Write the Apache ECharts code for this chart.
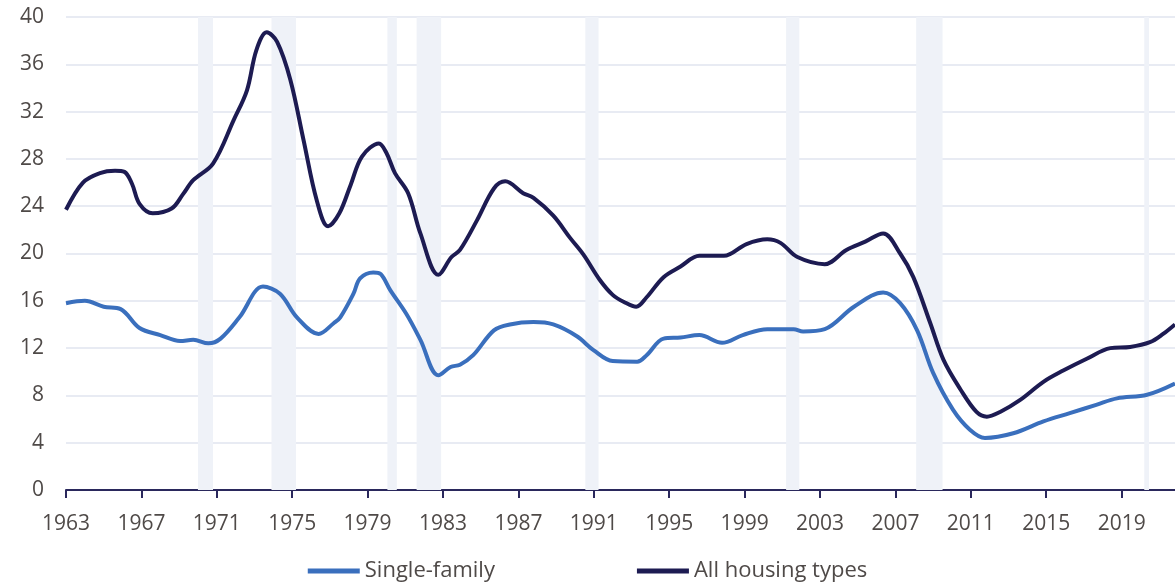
<!DOCTYPE html>
<html>
<head>
<meta charset="utf-8">
<script src="https://cdn.jsdelivr.net/npm/echarts@6/dist/echarts.min.js"></script>
<style>
    html, body { margin: 0; padding: 0; background: #fff; }
    #chart { width: 1175px; height: 584px; }
</style>
</head>
<body>
<div id="chart"></div>
<script type="text/javascript">

// all housing types
var allYears = [1963.0, 1963.9, 1964.8, 1965.6, 1966.1, 1966.5, 1966.9, 1967.6, 1968.6, 1969.2,
    1969.75, 1970.8, 1971.9, 1972.6, 1973.1, 1973.65, 1974.2, 1974.9, 1975.6, 1976.3,
    1976.9, 1977.5, 1978.1, 1978.7, 1979.6, 1980.0, 1980.45, 1981.15, 1981.8, 1982.75,
    1983.45, 1983.9, 1984.8, 1985.7, 1986.3, 1987.25, 1987.8, 1988.85, 1989.75, 1990.45,
    1991.3, 1992.0, 1992.6, 1993.25, 1993.8, 1994.7, 1995.6, 1996.6, 1997.9, 1999.1,
    2000.2, 2000.9, 2001.8, 2003.25, 2004.4, 2005.4, 2006.35, 2007.25, 2007.95, 2008.85,
    2009.55, 2010.45, 2011.3, 2011.85, 2012.55, 2013.6, 2014.85, 2015.9, 2017.15, 2018.4,
    2019.45, 2020.5, 2021.2, 2021.83];
var allValues = [23.7, 26.0, 26.8, 27.0, 26.9, 25.9, 24.2, 23.4, 23.8, 25.0,
    26.2, 27.6, 31.3, 33.8, 37.2, 38.7, 37.9, 34.7, 29.6, 24.5,
    22.3, 23.4, 25.8, 28.2, 29.3, 28.5, 26.8, 25.1, 21.7, 18.2,
    19.7, 20.3, 22.8, 25.5, 26.1, 25.1, 24.7, 23.2, 21.3, 19.9,
    17.8, 16.5, 15.9, 15.5, 16.3, 18.0, 18.9, 19.8, 19.8, 20.8,
    21.2, 20.9, 19.7, 19.1, 20.3, 21.0, 21.7, 20.0, 18.0, 14.1,
    11.0, 8.5, 6.6, 6.2, 6.6, 7.6, 9.15, 10.1, 11.1, 12.0,
    12.1, 12.5, 13.2, 14.0];

// single-family
var sfYears = [1963.0, 1964.0, 1965.0, 1965.9, 1966.9, 1968.0, 1969.05, 1969.75, 1970.55, 1971.2,
    1972.2, 1973.45, 1974.35, 1975.25, 1976.4, 1977.2, 1977.55, 1978.25, 1978.6, 1979.3,
    1979.7, 1980.2, 1981.05, 1981.8, 1982.75, 1983.4, 1983.9, 1984.6, 1985.7, 1986.55,
    1987.8, 1988.85, 1990.1, 1991.0, 1992.0, 1993.3, 1993.8, 1994.7, 1995.6, 1996.6,
    1997.8, 1998.9, 2000.2, 2001.6, 2002.1, 2003.25, 2004.8, 2006.35, 2007.25, 2008.15,
    2009.0, 2010.05, 2010.95, 2011.75, 2013.25, 2014.85, 2016.25, 2017.65, 2018.75, 2020.35,
    2021.83];
var sfValues = [15.8, 16.0, 15.5, 15.3, 13.7, 13.1, 12.6, 12.7, 12.4, 12.8,
    14.6, 17.2, 16.6, 14.6, 13.2, 14.1, 14.6, 16.6, 17.9, 18.4,
    18.25, 16.9, 14.9, 12.7, 9.7, 10.4, 10.6, 11.4, 13.5, 14.0,
    14.2, 14.0, 13.0, 11.8, 10.9, 10.85, 11.4, 12.8, 12.9, 13.1,
    12.45, 13.1, 13.6, 13.6, 13.4, 13.6, 15.5, 16.7, 15.8, 13.5,
    9.9, 6.8, 5.1, 4.4, 4.8, 5.8, 6.5, 7.2, 7.75, 8.05,
    9.0];

// recessions (start, end)
var recessionStart = [1970.0, 1973.9, 1980.05, 1981.6, 1990.55, 2001.2, 2008.1, 2020.2];
var recessionEnd   = [1970.8, 1975.2, 1980.55, 1982.9, 1991.25, 2001.9, 2009.5, 2020.45];

function pairs(xs, ys) {
    var out = [];
    for (var i = 0; i < xs.length; i++) out.push([xs[i], ys[i]]);
    return out;
}

var bands = [];
for (var i = 0; i < recessionStart.length; i++) {
    bands.push([{xAxis: recessionStart[i]}, {xAxis: recessionEnd[i]}]);
}

var textColor = '#4f4a48';
var fontName = '"Open Sans", "Noto Sans", sans-serif';

option = {
    animation: false,
    grid: {
        left: 66,
        right: 0,
        top: 17,
        bottom: 94
    },
    legend: {
        top: 555,
        left: 'center',
        itemWidth: 52,
        itemHeight: 5,
        itemGap: 142,
        icon: 'rect',
        textStyle: {
            color: textColor,
            fontSize: 22,
            fontFamily: fontName
        },
        data: ['Single-family', 'All housing types']
    },
    xAxis: {
        type: 'value',
        min: 1963,
        max: 2021.83,
        interval: 4,
        axisLine: {
            lineStyle: { color: '#2a285c', width: 2 }
        },
        axisTick: {
            length: 8,
            lineStyle: { color: '#2a285c', width: 2 }
        },
        axisLabel: {
            color: textColor,
            fontSize: 21,
            fontFamily: fontName,
            margin: 24,
            showMaxLabel: false,
            formatter: function (v) {
                return (v - 1963) % 4 === 0 ? String(v) : '';
            }
        },
        splitLine: { show: false }
    },
    yAxis: {
        type: 'value',
        min: 0,
        max: 40,
        interval: 4,
        axisLine: { show: false },
        axisTick: { show: false },
        axisLabel: {
            color: textColor,
            fontSize: 21,
            fontFamily: fontName,
            margin: 22
        },
        splitLine: {
            lineStyle: { color: '#e8ebf3', width: 2 }
        }
    },
    series: [
        {
            name: 'Single-family',
            type: 'line',
            smooth: 0.35,
            showSymbol: false,
            color: '#3a6fbd',
            lineStyle: { width: 4, color: '#3a6fbd' },
            data: pairs(sfYears, sfValues),
            markArea: {
                silent: true,
                itemStyle: { color: '#eff2f8' },
                data: bands
            },
            z: 3
        },
        {
            name: 'All housing types',
            type: 'line',
            smooth: 0.35,
            showSymbol: false,
            color: '#1d1b52',
            lineStyle: { width: 4, color: '#1d1b52' },
            data: pairs(allYears, allValues),
            z: 4
        }
    ]
};

var chart = echarts.init(document.getElementById('chart'));
chart.setOption(option);

</script>
</body>
</html>
